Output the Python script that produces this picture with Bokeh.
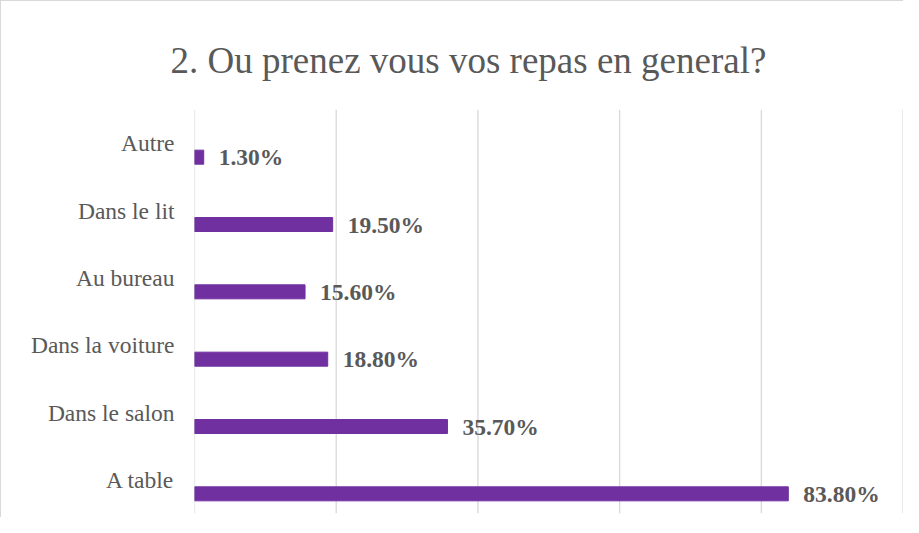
from bokeh.plotting import figure
from bokeh.models import Range1d, FactorRange, ColumnDataSource, Span, Title
from bokeh.transform import dodge
from bokeh.core.properties import value
from bokeh.embed import file_html
from bokeh.resources import INLINE

categories = ["Autre", "Dans le lit", "Au bureau", "Dans la voiture", "Dans le salon", "A table"]
values = [1.3, 19.5, 15.6, 18.8, 35.7, 83.8]
labels = ["1.30%", "19.50%", "15.60%", "18.80%", "35.70%", "83.80%"]
grid_ticks = [0, 20, 40, 60, 80, 100]

FONT = "Liberation Serif"
GREY = "#595959"
PURPLE = "#7030A0"

src = ColumnDataSource(dict(cat=categories, val=values, lab=labels))

p = figure(width=903, height=517, output_backend="svg", toolbar_location=None,
           y_range=FactorRange(factors=list(reversed(categories))),
           x_range=Range1d(0, 100.2), x_axis_location=None,
           min_border_left=193, min_border_right=0, min_border_top=108,
           min_border_bottom=5)
p.outline_line_color = None
p.xgrid.visible = False
p.ygrid.visible = False
p.styles = {"border-top": "1px solid #d9d9d9", "border-left": "1px solid #d9d9d9"}

for tk in grid_ticks:
    p.add_layout(Span(location=tk, dimension="height", line_color="#d9d9d9",
                      line_width=1.3, level="underlay"))

yax = p.yaxis[0]
yax.axis_line_color = None
yax.major_tick_line_color = None
yax.minor_tick_line_color = None
yax.major_tick_in = 0
yax.major_tick_out = 0
yax.major_label_standoff = 20
yax.major_label_text_font = FONT
yax.major_label_text_font_size = "23.5px"
yax.major_label_text_color = GREY

ypos = dodge("cat", -0.208, range=p.y_range)
p.hbar(y=ypos, right="val", left=0, height=0.208, source=src,
       fill_color=PURPLE, line_color=PURPLE)
p.text(x="val", y=ypos, text="lab", source=src, x_offset=15,
       text_baseline="middle", text_align="left",
       text_font=value(FONT), text_font_style="bold",
       text_font_size="23.5px", text_color=GREY)

t = Title(text="2. Ou prenez vous vos repas en general?", align="left", offset=-24,
          text_font=FONT, text_font_style="normal", text_font_size="37px",
          text_color=GREY, standoff=58)
p.add_layout(t, "above")

open("out.html", "w").write(file_html(p, INLINE))
